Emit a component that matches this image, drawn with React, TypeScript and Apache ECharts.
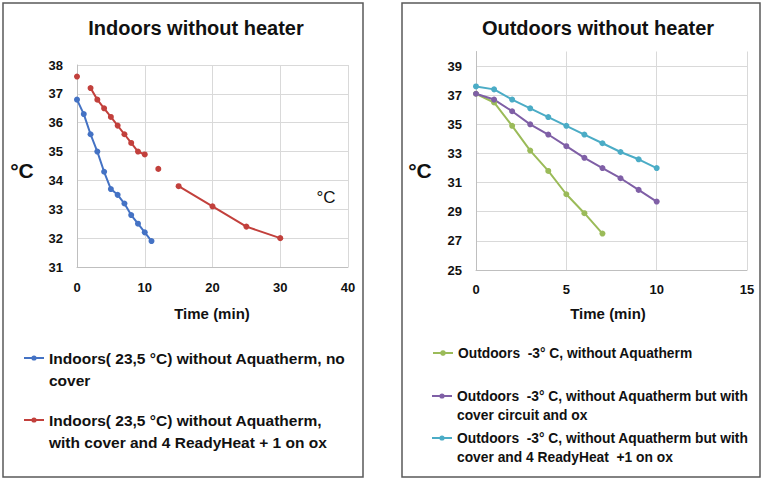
import React, { useEffect, useRef } from "react";
import * as echarts from "echarts";

const FONT = "'Liberation Sans', Arial, sans-serif";

// ---- Left chart data ----
const leftTitle = "Indoors without heater";
const leftXAxis = { min: 0, max: 40, interval: 10 };
const leftYAxis = { min: 31, max: 38, interval: 1 };
const blueName = "Indoors( 23,5 °C) without Aquatherm, no\ncover";
const blueX = [0, 1, 2, 3, 4, 5, 6, 7, 8, 9, 10, 11];
const blueY = [36.8, 36.3, 35.6, 35.0, 34.3, 33.7, 33.5, 33.2, 32.8, 32.5, 32.2, 31.9];
const redName = "Indoors( 23,5 °C) without Aquatherm,\nwith cover and 4 ReadyHeat + 1 on ox";
const redX = [0, 1, 2, 3, 4, 5, 6, 7, 8, 9, 10, 11, 12, 13, 15, 20, 25, 30];
const redY = [37.6, null, 37.2, 36.8, 36.5, 36.2, 35.9, 35.6, 35.3, 35.0, 34.9, null, 34.4, null, 33.8, 33.1, 32.4, 32.0];

// ---- Right chart data ----
const rightTitle = "Outdoors without heater";
const rightXAxis = { min: 0, max: 15, interval: 5 };
const rightYAxis = { min: 25, max: 40, labelMax: 39, interval: 2 };
const greenName = "Outdoors  -3° C, without Aquatherm";
const greenX = [0, 1, 2, 3, 4, 5, 6, 7];
const greenY = [37.1, 36.5, 34.9, 33.2, 31.8, 30.2, 28.9, 27.5];
const purpleName = "Outdoors  -3° C, without Aquatherm but with\ncover circuit and ox";
const purpleX = [0, 1, 2, 3, 4, 5, 6, 7, 8, 9, 10];
const purpleY = [37.1, 36.7, 35.9, 35.0, 34.3, 33.5, 32.7, 32.0, 31.3, 30.5, 29.7];
const cyanName = "Outdoors  -3° C, without Aquatherm but with\ncover and 4 ReadyHeat  +1 on ox";
const cyanX = [0, 1, 2, 3, 4, 5, 6, 7, 8, 9, 10];
const cyanY = [37.6, 37.4, 36.7, 36.1, 35.5, 34.9, 34.3, 33.7, 33.1, 32.6, 32.0];

const xTitle = "Time (min)";
const yTitle = "°C";

const GRID_COLOR = "#d9d9d9";
const AXIS_COLOR = "#bfbfbf";
const TEXT = "#111";

function pts(xs: number[], ys: (number | null)[]) {
  return xs.map((x, i) => [x, ys[i] == null ? "-" : ys[i]]);
}

function lineSeries(name: string, color: string, data: any[], axisIndex: number) {
  return {
    type: "line",
    name,
    data,
    xAxisIndex: axisIndex,
    yAxisIndex: axisIndex,
    connectNulls: false,
    symbol: "circle",
    symbolSize: 6,
    showSymbol: true,
    color,
    itemStyle: { color },
    lineStyle: { color, width: 2 },
    emphasis: { disabled: true },
  };
}

// Legend icon (line + dot) drawn on the first text line of a two-line entry:
// the icon box spans both lines, the mark sits at the first line's centre.
function topLineIcon(w: number, h: number, lh: number) {
  const c = lh / 2;
  const r = 2.6;
  const cx = w / 2;
  return (
    `path://M0,0L0.05,0L0.05,0.05Z ` +
    `M0,${c - 1}L${w},${c - 1}L${w},${c + 1}L0,${c + 1}Z ` +
    `M${cx + r},${c}A${r},${r},0,1,1,${cx - r},${c}A${r},${r},0,1,1,${cx + r},${c}Z ` +
    `M${w},${h}L${w - 0.05},${h}L${w - 0.05},${h - 0.05}Z`
  );
}

function legendItem(name: string, left: number, firstLineY: number, lh: number, twoLines: boolean, fontSize: number) {
  const base: any = {
    data: [name],
    left,
    orient: "vertical",
    padding: 0,
    itemWidth: 20,
    selectedMode: false,
    textStyle: {
      fontFamily: FONT,
      fontSize,
      fontWeight: "bold",
      color: TEXT,
      lineHeight: lh,
    },
  };
  if (twoLines) {
    base.itemHeight = 2 * lh;
    base.icon = topLineIcon(20, 2 * lh, lh);
    base.top = firstLineY - lh / 2;
  } else {
    base.itemHeight = 7;
    base.top = firstLineY - lh / 2;
  }
  return base;
}

function valueAxis(gridIndex: number, r: any, extra: any = {}) {
  return {
    type: "value",
    gridIndex,
    min: r.min,
    max: r.max,
    interval: r.interval,
    axisLine: { show: true, lineStyle: { color: AXIS_COLOR, width: 1 } },
    axisTick: { show: false },
    axisLabel: {
      fontFamily: FONT,
      fontSize: 13,
      fontWeight: "bold",
      color: TEXT,
      margin: 14,
    },
    splitLine: { show: true, lineStyle: { color: GRID_COLOR, width: 1 } },
    ...extra,
  };
}

export default function App() {
  const ref = useRef<HTMLDivElement>(null);
  useEffect(() => {
    if (!ref.current) return;
    const chart = echarts.init(ref.current, null, { renderer: "svg" });
    const option: any = {
      animation: false,
      backgroundColor: "#fff",
      grid: [
        { left: 77, top: 65, width: 271, height: 202 },
        { left: 476, top: 51.5, width: 271, height: 218.5 },
        { left: 476, top: 66, width: 271, height: 204 },
      ],
      xAxis: [
        valueAxis(0, leftXAxis),
        valueAxis(1, rightXAxis, { axisLabel: { fontFamily: FONT, fontSize: 13, fontWeight: "bold", color: TEXT, margin: 13 } }),
        valueAxis(2, rightXAxis, { show: false }),
      ],
      yAxis: [
        valueAxis(0, leftYAxis),
        valueAxis(1, rightYAxis, { axisLabel: { show: false }, splitLine: { show: false } }),
        valueAxis(2, { min: rightYAxis.min, max: rightYAxis.labelMax, interval: rightYAxis.interval }, { axisLine: { show: false } }),
      ],
      legend: [
        legendItem(blueName, 24, 358, 22, true, 15.5),
        legendItem(redName, 24, 420, 22, true, 15.5),
        legendItem(greenName, 432, 353, 20, false, 13.8),
        legendItem(purpleName, 432, 396, 19.5, true, 13.8),
        legendItem(cyanName, 432, 438, 19.5, true, 13.8),
      ],
      series: [
        lineSeries(blueName, "#4472c4", pts(blueX, blueY), 0),
        lineSeries(redName, "#c2403c", pts(redX, redY), 0),
        lineSeries(greenName, "#9bbb59", pts(greenX, greenY), 1),
        lineSeries(purpleName, "#7f5fa6", pts(purpleX, purpleY), 1),
        lineSeries(cyanName, "#4bacc6", pts(cyanX, cyanY), 1),
      ],
      graphic: [
        { type: "rect", shape: { x: 3, y: 3, width: 360, height: 474 }, style: { fill: "none", stroke: "#5a5a5a", lineWidth: 1.5 }, z: 10 },
        { type: "rect", shape: { x: 402, y: 3, width: 358, height: 474 }, style: { fill: "none", stroke: "#5a5a5a", lineWidth: 1.5 }, z: 10 },
        { type: "text", x: 196, y: 28, style: { text: leftTitle, fontFamily: FONT, fontSize: 20, fontWeight: "bold", fill: TEXT, align: "center", verticalAlign: "middle" } },
        { type: "text", x: 598, y: 28, style: { text: rightTitle, fontFamily: FONT, fontSize: 20, fontWeight: "bold", fill: TEXT, align: "center", verticalAlign: "middle" } },
        { type: "text", x: 22, y: 170, style: { text: yTitle, fontFamily: FONT, fontSize: 21, fontWeight: "bold", fill: TEXT, align: "center", verticalAlign: "middle" } },
        { type: "text", x: 420, y: 170, style: { text: yTitle, fontFamily: FONT, fontSize: 21, fontWeight: "bold", fill: TEXT, align: "center", verticalAlign: "middle" } },
        { type: "text", x: 326, y: 197, style: { text: yTitle, fontFamily: FONT, fontSize: 17, fill: TEXT, align: "center", verticalAlign: "middle" } },
        { type: "text", x: 212, y: 313, style: { text: xTitle, fontFamily: FONT, fontSize: 15, fontWeight: "bold", fill: TEXT, align: "center", verticalAlign: "middle" } },
        { type: "text", x: 608, y: 313, style: { text: xTitle, fontFamily: FONT, fontSize: 15, fontWeight: "bold", fill: TEXT, align: "center", verticalAlign: "middle" } },
      ],
    };
    chart.setOption(option);
    return () => chart.dispose();
  }, []);
  return (
    <div
      ref={ref}
      style={{ position: "fixed", left: 0, top: 0, width: 765, height: 480, background: "#fff" }}
    />
  );
}
